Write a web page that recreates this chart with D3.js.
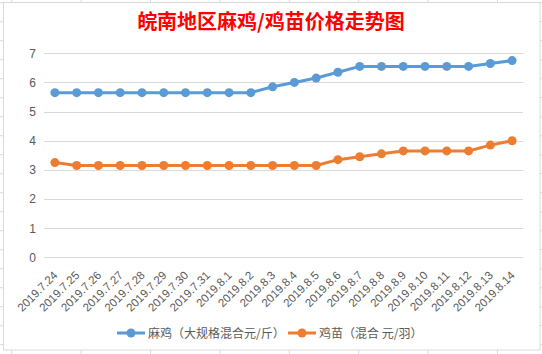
<!DOCTYPE html>
<html><head><meta charset="utf-8">
<script src="https://cdn.jsdelivr.net/npm/d3@7/dist/d3.min.js"></script>
<style>body{margin:0;background:#fff}svg{display:block}</style>
</head><body><svg id="c" width="542" height="354"></svg>
<script>
const categories = ["2019.7.24","2019.7.25","2019.7.26","2019.7.27","2019.7.28","2019.7.29","2019.7.30","2019.7.31","2019.8.1","2019.8.2","2019.8.3","2019.8.4","2019.8.5","2019.8.6","2019.8.7","2019.8.8","2019.8.9","2019.8.10","2019.8.11","2019.8.12","2019.8.13","2019.8.14"];
const maji = [5.65,5.65,5.65,5.65,5.65,5.65,5.65,5.65,5.65,5.65,5.85,6.0,6.15,6.35,6.55,6.55,6.55,6.55,6.55,6.55,6.65,6.75];
const jimiao = [3.25,3.15,3.15,3.15,3.15,3.15,3.15,3.15,3.15,3.15,3.15,3.15,3.15,3.35,3.45,3.55,3.65,3.65,3.65,3.65,3.85,4.0];
const yTicks = [0,1,2,3,4,5,6,7];
const seriesNames = ["麻鸡（大规格混合元/斤）","鸡苗（混合 元/羽）"];
const title = "皖南地区麻鸡/鸡苗价格走势图";

const svg = d3.select("#c");
const W = 542, H = 354;
const cols = d3.range(-10, 12).map(i => 11.7 + i*69.4).filter(v => v >= 0 && v <= W);
const rows = d3.range(0, 20).map(i => 2.7 + i*19).filter(v => v <= H);
svg.append("g").selectAll("line.c").data(cols).join("line")
  .attr("x1", d => d).attr("x2", d => d).attr("y1", 0).attr("y2", H)
  .attr("stroke", "#dadada").attr("stroke-width", 1);
svg.append("g").selectAll("line.r").data(rows).join("line")
  .attr("y1", d => d).attr("y2", d => d).attr("x1", 0).attr("x2", W)
  .attr("stroke", "#dadada").attr("stroke-width", 1);
svg.append("rect").attr("x", 3.5).attr("y", 2.5).attr("width", 536.5).attr("height", 347.5)
  .attr("fill", "#fff").attr("stroke", "#d9d9d9").attr("stroke-width", 1);

const x = d3.scalePoint().domain(categories).range([44, 523]).padding(0.5);
const y = d3.scaleLinear().domain([0, 7]).range([257.3, 53.3]);

svg.append("g").selectAll("line").data(yTicks).join("line")
  .attr("x1", 44).attr("x2", 523)
  .attr("y1", d => Math.round(y(d)) + 0.5).attr("y2", d => Math.round(y(d)) + 0.5)
  .attr("stroke", "#d9d9d9").attr("stroke-width", 1);

const yAxis = d3.axisLeft(y).tickValues(yTicks).tickSize(0).tickPadding(0).tickFormat(d3.format("d"));
const ga = svg.append("g").attr("transform", "translate(36,0)").call(yAxis);
ga.select(".domain").remove();
ga.selectAll("text").attr("fill", "#595959").style("font-family", "'Liberation Sans', sans-serif").style("font-size", "12px");

const xAxis = d3.axisBottom(x).tickSize(0).tickPadding(0);
const gx = svg.append("g").attr("transform", "translate(0,262)").call(xAxis);
gx.select(".domain").remove();
gx.selectAll("text")
  .attr("fill", "#595959")
  .style("font-family", "'Liberation Sans', sans-serif").style("font-size", "11.5px")
  .attr("text-anchor", "end").attr("dy", "0").attr("y", 0)
  .attr("transform", "translate(3,14) rotate(-45)");

const colors = ["#5b9bd5", "#ed7d31"];
[maji, jimiao].forEach((vals, i) => {
  const line = d3.line().x((d, j) => x(categories[j])).y(d => y(d));
  svg.append("path").datum(vals).attr("d", line).attr("fill", "none")
    .attr("stroke", colors[i]).attr("stroke-width", 3).attr("stroke-linejoin", "round");
  svg.append("g").selectAll("circle").data(vals).join("circle")
    .attr("cx", (d, j) => x(categories[j])).attr("cy", d => y(d)).attr("r", 4.5)
    .attr("fill", colors[i]);
});

svg.append("text").attr("x", 271).attr("y", 29).attr("text-anchor", "middle")
  .attr("fill", "#ff0000").style("font-family", "'Noto Sans CJK SC', sans-serif")
  .style("font-weight", "bold").style("font-size", "20px").text(title);

const lg = [{x: 117, tx: 148}, {x: 288, tx: 319}];
lg.forEach((p, i) => {
  const g = svg.append("g");
  g.append("line").attr("x1", p.x).attr("x2", p.x + 28).attr("y1", 333).attr("y2", 333)
    .attr("stroke", colors[i]).attr("stroke-width", 3);
  g.append("circle").attr("cx", p.x + 14).attr("cy", 333).attr("r", 4.5).attr("fill", colors[i]);
  g.append("text").attr("x", p.tx).attr("y", 337.5).attr("fill", "#595959")
    .style("font-family", "'Noto Sans CJK SC', sans-serif").style("font-size", "12px")
    .text(seriesNames[i]);
});
</script></body></html>
